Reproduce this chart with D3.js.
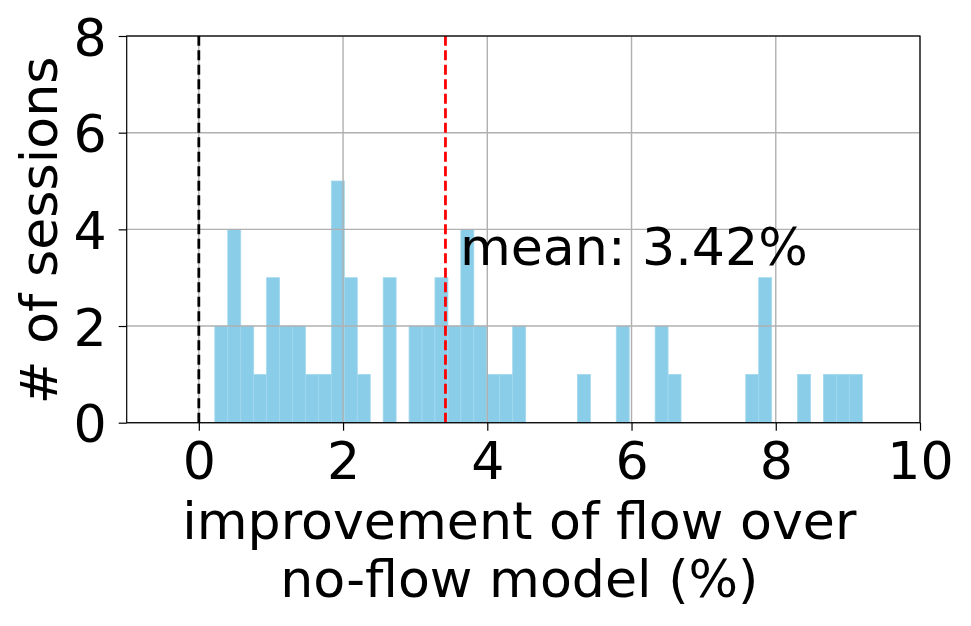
<!DOCTYPE html>
<html>
<head>
<meta charset="utf-8">
<script src="https://cdn.jsdelivr.net/npm/d3@7"></script>
<style>
  html, body { margin: 0; padding: 0; background: #fff; }
  svg { display: block; }
  text { font-family: "DejaVu Sans", sans-serif; fill: #000; }
</style>
</head>
<body>
<script>
// ---- data ----
const binLow = 0.222;      // left edge of first bin
const binHigh = 9.200;     // right edge of last bin
const counts = [2,4,2,1,3,2,2,1,1,5,3,1,0,3,0,2,2,3,2,4,2,1,1,2,0,0,0,0,1,0,0,2,0,0,2,1,0,0,0,0,0,1,3,0,0,1,0,1,1,1];
const meanValue = 3.42;
const zeroRef = 0;
const xTicks = [0, 2, 4, 6, 8, 10];
const yTicks = [0, 2, 4, 6, 8];
const xDomain = [-1, 10];
const yDomain = [0, 8];
const xLabelLines = ["improvement of flow over", "no-flow model (%)"];
const yLabel = "# of sessions";
const meanLabel = "mean: " + meanValue.toFixed(2) + "%";

// ---- layout ----
const W = 971, H = 626;
const m = { left: 126.7, right: 51, top: 36, bottom: 203.3 };
const FS = 52.2;

const svg = d3.select("body").append("svg").attr("width", W).attr("height", H);

const x = d3.scaleLinear().domain(xDomain).range([m.left, W - m.right]);
const y = d3.scaleLinear().domain(yDomain).range([H - m.bottom, m.top]);

const nb = counts.length;
const bw = (binHigh - binLow) / nb;
const bins = counts.map((c, i) => ({ x0: binLow + i * bw, x1: binLow + (i + 1) * bw, c }));

const plot = svg.append("g");

// bars
plot.selectAll("rect.bar").data(bins.filter(d => d.c > 0)).join("rect")
  .attr("class", "bar")
  .attr("x", d => x(d.x0))
  .attr("width", d => x(d.x1) - x(d.x0))
  .attr("y", d => y(d.c))
  .attr("height", d => y(0) - y(d.c))
  .attr("fill", "#89cde9")
  .attr("stroke", "#a3d8ee")
  .attr("stroke-width", 0.8);

// grid (above bars, as in the reference)
plot.selectAll("line.gx").data(xTicks).join("line")
  .attr("x1", d => x(d)).attr("x2", d => x(d))
  .attr("y1", y(yDomain[0])).attr("y2", y(yDomain[1]))
  .attr("stroke", "#b0b0b0").attr("stroke-width", 1.4);
plot.selectAll("line.gy").data(yTicks).join("line")
  .attr("y1", d => y(d)).attr("y2", d => y(d))
  .attr("x1", x(xDomain[0])).attr("x2", x(xDomain[1]))
  .attr("stroke", "#b0b0b0").attr("stroke-width", 1.4);

// reference lines
plot.append("line")
  .attr("x1", x(zeroRef)).attr("x2", x(zeroRef))
  .attr("y1", y(yDomain[0])).attr("y2", y(yDomain[1]))
  .attr("stroke", "#000").attr("stroke-width", 2.8)
  .attr("stroke-dasharray", "10,4.5");
plot.append("line")
  .attr("x1", x(meanValue)).attr("x2", x(meanValue))
  .attr("y1", y(yDomain[0])).attr("y2", y(yDomain[1]))
  .attr("stroke", "#ff0000").attr("stroke-width", 2.8)
  .attr("stroke-dasharray", "10,4.5");

// mean label
svg.append("text")
  .attr("x", x(meanValue + 0.2))
  .attr("y", y(3.26))
  .attr("font-size", FS)
  .text(meanLabel);

// axes
const xAxis = d3.axisBottom(x).tickValues(xTicks).tickSize(8).tickPadding(6).tickFormat(d3.format("d"));
const yAxis = d3.axisLeft(y).tickValues(yTicks).tickSize(8).tickPadding(6).tickFormat(d3.format("d"));

const gx = svg.append("g").attr("transform", `translate(0,${y(0)})`).call(xAxis);
const gy = svg.append("g").attr("transform", `translate(${x(xDomain[0])},0)`).call(yAxis);
[gx, gy].forEach(g => {
  g.select(".domain").remove();
  g.selectAll(".tick line").attr("stroke", "#000").attr("stroke-width", 1.2);
  g.selectAll(".tick text").attr("font-size", FS).attr("font-family", "DejaVu Sans").attr("fill", "#000");
});
gx.selectAll(".tick text").attr("dy", null).attr("y", 56);
gy.selectAll(".tick text").attr("dy", null).attr("y", 19).attr("x", -20);

// frame
svg.append("rect")
  .attr("x", x(xDomain[0])).attr("y", y(yDomain[1]))
  .attr("width", x(xDomain[1]) - x(xDomain[0]))
  .attr("height", y(yDomain[0]) - y(yDomain[1]))
  .attr("fill", "none").attr("stroke", "#000").attr("stroke-width", 1.2);

// x label
const cx = (x(xDomain[0]) + x(xDomain[1])) / 2;
svg.append("text")
  .attr("text-anchor", "middle")
  .attr("font-size", FS)
  .selectAll("tspan").data(xLabelLines).join("tspan")
  .attr("x", cx - 4)
  .attr("y", (d, i) => 539 + i * 58)
  .text(d => d);

// y label
svg.append("text")
  .attr("text-anchor", "middle")
  .attr("font-size", FS)
  .attr("transform", `translate(57,${(y(yDomain[0]) + y(yDomain[1])) / 2 + 1}) rotate(-90)`)
  .text(yLabel);
</script>
</body>
</html>
